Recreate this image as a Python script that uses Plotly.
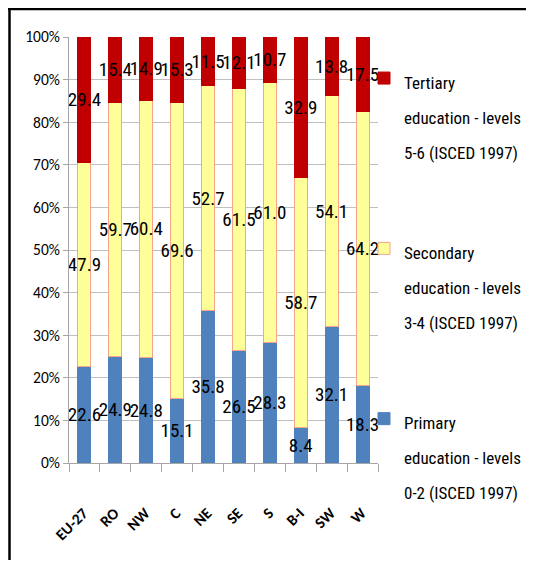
import plotly.graph_objects as go

regions = ["EU-27", "RO", "NW", "C", "NE", "SE", "S", "B-I", "SW", "W"]
primary = [22.6, 24.9, 24.8, 15.1, 35.8, 26.5, 28.3, 8.4, 32.1, 18.3]
secondary = [47.9, 59.7, 60.4, 69.6, 52.7, 61.5, 61.0, 58.7, 54.1, 64.2]
tertiary = [29.4, 15.4, 14.9, 15.3, 11.5, 12.1, 10.7, 32.9, 13.8, 17.5]

names = [
    "Primary<br>education - levels<br>0-2 (ISCED 1997)",
    "Secondary<br>education - levels<br>3-4 (ISCED 1997)",
    "Tertiary<br>education - levels<br>5-6 (ISCED 1997)",
]
colors = ["#4F81BD", "#FFFF99", "#C00000"]
lines = ["#4F81BD", "#F4A58A", "#C00000"]

FONT = "Carlito, Lato, sans-serif"
COND = "Roboto Condensed, Carlito, sans-serif"

def span(t):
    return "<br>".join(
        f'<span style="font-size:17px">{p}</span>' for p in t.split("<br>")
    )

fig = go.Figure()
for i, (vals, nm) in enumerate(zip([primary, secondary, tertiary], names)):
    fig.add_trace(go.Bar(
        x=regions, y=vals, name=span(nm),
        marker=dict(color=colors[i], line=dict(color=lines[i], width=1)),
        text=[f"{v:.1f}" for v in vals],
        textposition="inside", insidetextanchor="middle", textangle=0,
        textfont=dict(family=COND, size=19, color="black"),
        legendgroup=f"g{i}", legendrank=10 - i, cliponaxis=False,
    ))

# page has an 8px body margin: figure coordinates = page coordinates - 8
OFF = 8
W, H = 534 - 2 * OFF, 568 - 2 * OFF
L, T = 69 - OFF, 37 - OFF
R, B = W - (378 - OFF), H - (463 - OFF)
pw, ph = W - L - R, H - T - B

def px(x):
    return (x - OFF - L) / pw

def py(y):
    return (H - B - (y - OFF)) / ph

fig.update_layout(
    width=W, height=H,
    margin=dict(l=L, r=R, t=T, b=B, autoexpand=False),
    barmode="stack", barnorm="percent", bargap=0.58,
    plot_bgcolor="white", paper_bgcolor="white",
    uniformtext=dict(mode="show", minsize=19),
    showlegend=True,
    legend=dict(
        traceorder="grouped", tracegroupgap=62,
        font=dict(family=COND, size=27, color="black"),
        x=px(364), y=py(54), xanchor="left", yanchor="top",
        valign="top", bgcolor="rgba(0,0,0,0)", maxheight=550,
    ),
    xaxis=dict(
        tickangle=-45, tickfont=dict(family=FONT, size=15.5, color="black", weight="bold"),
        showline=True, linecolor="#A6A6A6", ticks="outside", tickson="boundaries",
        ticklen=8, tickcolor="#A6A6A6", showgrid=False,
        ticklabelstandoff=34, ticklabelshift=-1,
    ),
    yaxis=dict(
        range=[0, 100], dtick=10, ticksuffix="%",
        tickfont=dict(family=FONT, size=15.5, color="black"),
        showgrid=True, gridcolor="#BFBFBF", gridwidth=1,
        showline=True, linecolor="#A6A6A6", ticks="outside", ticklen=5,
        tickcolor="#A6A6A6", zeroline=False,
    ),
    shapes=[
        dict(type="line", xref="paper", yref="paper", x0=px(8), x1=px(534), y0=py(9), y1=py(9),
             line=dict(color="black", width=2.5)),
        dict(type="line", xref="paper", yref="paper", x0=px(9.5), x1=px(9.5), y0=py(8), y1=py(568),
             line=dict(color="black", width=2.5)),
    ],
)

fig.write_html("out.html")
